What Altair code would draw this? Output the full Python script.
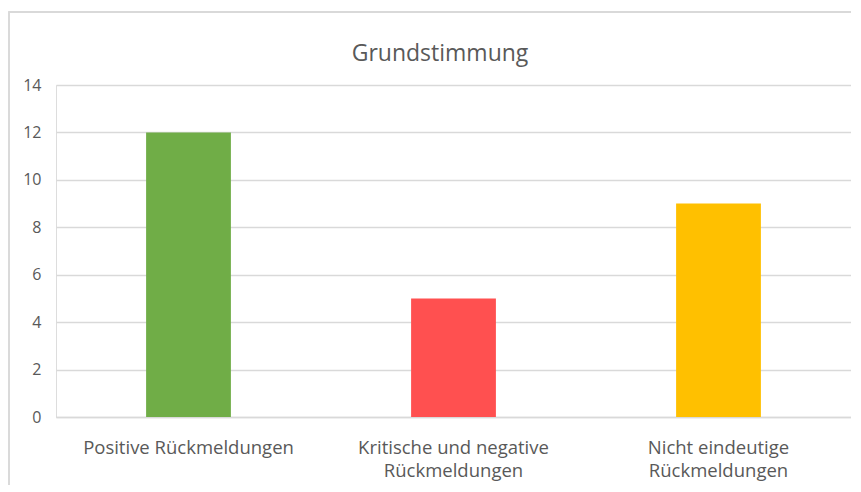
import altair as alt
import pandas as pd
import json

categories = ["Positive Rückmeldungen", "Kritische und negative Rückmeldungen", "Nicht eindeutige Rückmeldungen"]
label_lines = [["Positive Rückmeldungen"], ["Kritische und negative", "Rückmeldungen"], ["Nicht eindeutige", "Rückmeldungen"]]
values = [12, 5, 9]
colors = ["#70AD47", "#FF5050", "#FFC000"]
title_text = "Grundstimmung"

df = pd.DataFrame({"cat": categories, "val": values, "col": colors})

mapping = json.dumps({c: l for c, l in zip(categories, label_lines)}, ensure_ascii=False)
label_expr = f"{mapping}[datum.value]"

FONT = "Open Sans"
TXT = "#595959"

bars = alt.Chart(df).mark_bar(width=alt.RelativeBandSize(0.32)).encode(
    x=alt.X("cat:N", sort=categories, title=None,
            scale=alt.Scale(paddingInner=0, paddingOuter=0),
            axis=alt.Axis(labelAngle=0, labelExpr=label_expr, labelFont=FONT, labelFontSize=18.5,
                          labelColor=TXT, ticks=False, domainColor="#d9d9d9", domainWidth=1.3,
                          labelPadding=21, labelLineHeight=23, labelLimit=300)),
    y=alt.Y("val:Q", title=None,
            scale=alt.Scale(domain=[0, 14]),
            axis=alt.Axis(values=list(range(0, 15, 2)), labelFont=FONT, labelFontSize=16,
                          labelColor=TXT, ticks=False, domain=False, gridColor="#d9d9d9",
                          gridWidth=1.3, labelPadding=15)),
    color=alt.Color("col:N", scale=None),
)

frame = alt.Chart(df).mark_rect(fill="transparent", stroke="#d9d9d9", strokeWidth=1.3, clip=False).encode(
    x=alt.value(-47), x2=alt.value(860), y=alt.value(-73), y2=alt.value(500)
)

title = alt.Chart(pd.DataFrame({"t": [title_text]})).mark_text(
    font=FONT, fontSize=23, color=TXT, align="center", baseline="middle"
).encode(text="t:N", x=alt.value(384), y=alt.value(-31))

chart = alt.layer(frame, bars, title).properties(
    width=795, height=332,
    autosize=alt.AutoSizeParams(type="none"),
    padding={"left": 48, "top": 77, "right": 0, "bottom": 68},
).configure_view(stroke=None).configure(background="white")

chart.save("out.html", embed_options={"renderer": "svg", "actions": False})
